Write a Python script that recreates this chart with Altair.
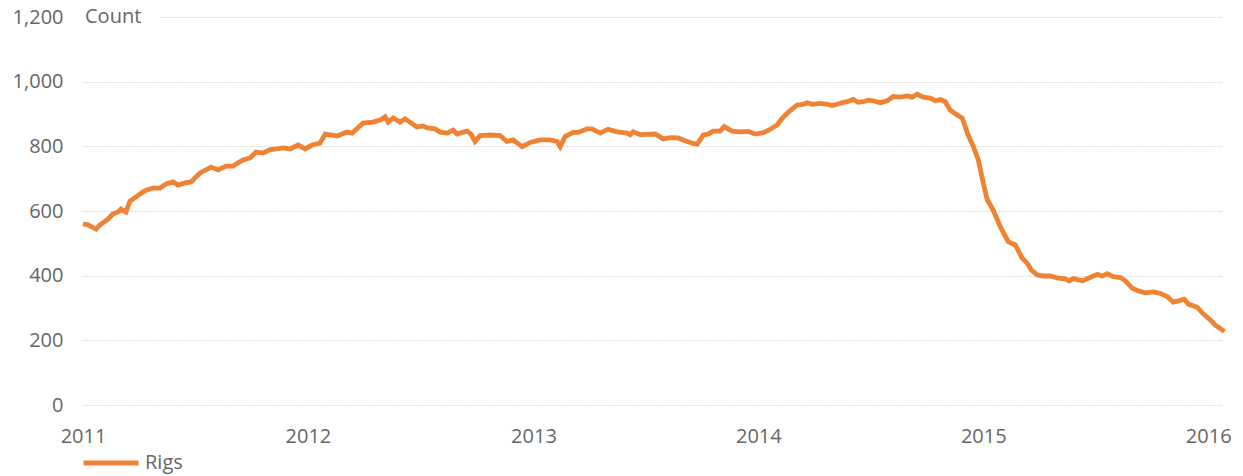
import altair as alt
import pandas as pd

# Decimal-year offsets from 1 Jan 2011 and rig counts
year_offset = [
    0.000, 0.022, 0.058, 0.076, 0.111, 0.133, 0.156, 0.169, 0.191, 0.209,
    0.240, 0.267, 0.284, 0.311, 0.342, 0.369, 0.400, 0.422, 0.453, 0.480,
    0.520, 0.569, 0.600, 0.636, 0.667, 0.689, 0.711, 0.742, 0.769, 0.800,
    0.831, 0.862, 0.889, 0.920, 0.956, 0.987, 1.018, 1.053, 1.076, 1.129,
    1.173, 1.196, 1.244, 1.289, 1.320, 1.342, 1.356, 1.378, 1.409, 1.431,
    1.484, 1.511, 1.529, 1.564, 1.587, 1.618, 1.644, 1.662, 1.689, 1.707,
    1.724, 1.742, 1.764, 1.809, 1.853, 1.884, 1.911, 1.951, 1.987, 2.031,
    2.076, 2.107, 2.120, 2.142, 2.178, 2.200, 2.240, 2.262, 2.298, 2.333,
    2.373, 2.418, 2.431, 2.444, 2.476, 2.507, 2.542, 2.578, 2.609, 2.644,
    2.684, 2.711, 2.729, 2.756, 2.778, 2.800, 2.831, 2.849, 2.884, 2.920,
    2.956, 2.987, 3.022, 3.044, 3.084, 3.107, 3.133, 3.173, 3.200, 3.218,
    3.240, 3.276, 3.307, 3.329, 3.351, 3.378, 3.396, 3.422, 3.444, 3.467,
    3.489, 3.511, 3.542, 3.573, 3.600, 3.631, 3.662, 3.684, 3.707, 3.733,
    3.764, 3.787, 3.809, 3.831, 3.853, 3.884, 3.907, 3.929, 3.956, 3.978,
    4.000, 4.018, 4.044, 4.076, 4.111, 4.142, 4.173, 4.196, 4.213, 4.240,
    4.267, 4.298, 4.333, 4.364, 4.382, 4.400, 4.440, 4.467, 4.507, 4.529,
    4.551, 4.578, 4.609, 4.631, 4.662, 4.684, 4.720, 4.756, 4.787, 4.818,
    4.844, 4.867, 4.893, 4.911, 4.951, 4.978, 5.009, 5.031, 5.053, 5.071,
]
rigs = [
    560, 557, 544, 557, 575, 591, 597, 606, 597, 631,
    646, 659, 665, 671, 671, 684, 690, 680, 687, 690,
    718, 736, 727, 739, 739, 749, 758, 764, 782, 779,
    790, 792, 795, 792, 804, 792, 804, 810, 838, 832,
    844, 841, 872, 875, 881, 891, 875, 888, 875, 885,
    860, 863, 857, 854, 844, 841, 850, 838, 844, 847,
    838, 815, 833, 835, 833, 815, 820, 799, 812, 820,
    820, 815, 799, 830, 843, 843, 854, 854, 841, 853,
    845, 841, 836, 845, 836, 837, 838, 823, 827, 826,
    815, 809, 807, 835, 838, 847, 847, 861, 847, 845,
    846, 838, 842, 849, 866, 887, 905, 928, 930, 935,
    930, 933, 930, 926, 930, 936, 938, 945, 936, 938,
    943, 941, 935, 941, 954, 952, 956, 952, 961, 952,
    949, 941, 945, 938, 912, 897, 887, 841, 799, 758,
    686, 634, 603, 551, 505, 495, 454, 438, 418, 402,
    399, 399, 392, 390, 384, 391, 384, 392, 404, 399,
    406, 397, 394, 384, 361, 354, 347, 350, 345, 335,
    318, 322, 327, 312, 302, 281, 263, 247, 237, 227,
]
y_ticks = [0, 200, 400, 600, 800, 1000, 1200]
series_name = "Rigs"
unit_label = "Count"

start = pd.Timestamp("2011-01-01")
df = pd.DataFrame({
    "date": [start + pd.to_timedelta(v * 365.25, unit="D") for v in year_offset],
    "value": rigs,
    "series": series_name,
})

FONT = "Open Sans"
GREY = "#666666"
ORANGE = "#EF8233"
FS = 20

line = alt.Chart(df).mark_line(strokeWidth=4.8, color=ORANGE).encode(
    x=alt.X(
        "date:T",
        scale=alt.Scale(domain=[alt.DateTime(year=2011, month=1, date=1),
                                alt.DateTime(year=2016, month=1, date=25)]),
        axis=alt.Axis(
            title=None, format="%Y", tickCount={"interval": "year", "step": 1},
            grid=False, ticks=False, domain=False, labelFlush=False,
            labelFont=FONT, labelFontSize=FS, labelColor=GREY, labelPadding=21,
        ),
    ),
    y=alt.Y(
        "value:Q",
        scale=alt.Scale(domain=[0, 1200], nice=False),
        axis=alt.Axis(
            title=None,
            values=y_ticks, format=",d", ticks=False, domain=False,
            grid=True, gridColor="#bdbdbd", gridDash=[1, 2], gridWidth=1,
            labelFont=FONT, labelFontSize=FS, labelColor=GREY, labelPadding=20,
        ),
    ),
    color=alt.Color(
        "series:N",
        scale=alt.Scale(range=[ORANGE]),
        legend=alt.Legend(
            title=None, orient="none", legendX=-2, legendY=416,
            symbolType="stroke", symbolSize=3025, symbolStrokeWidth=4.8,
            labelFont=FONT, labelFontSize=FS, labelColor=GREY, labelOffset=4,
            padding=0,
        ),
    ),
)

one = pd.DataFrame({"label": [unit_label]})
mask = alt.Chart(one).mark_rect(color="white").encode(
    x=alt.value(0), x2=alt.value(77), y=alt.value(-8), y2=alt.value(8)
)
title_txt = alt.Chart(one).mark_text(
    align="left", baseline="middle", font=FONT, fontSize=FS, color=GREY
).encode(x=alt.value(2), y=alt.value(0), text="label:N")

chart = alt.layer(mask, line, title_txt).properties(
    width=1140,
    height=388,
    autosize=alt.AutoSizeParams(type="none"),
    padding={"left": 75, "top": 9, "right": 12, "bottom": 71},
).configure_view(stroke=None)

chart.save("out.html", embed_options={"renderer": "svg", "actions": False})
